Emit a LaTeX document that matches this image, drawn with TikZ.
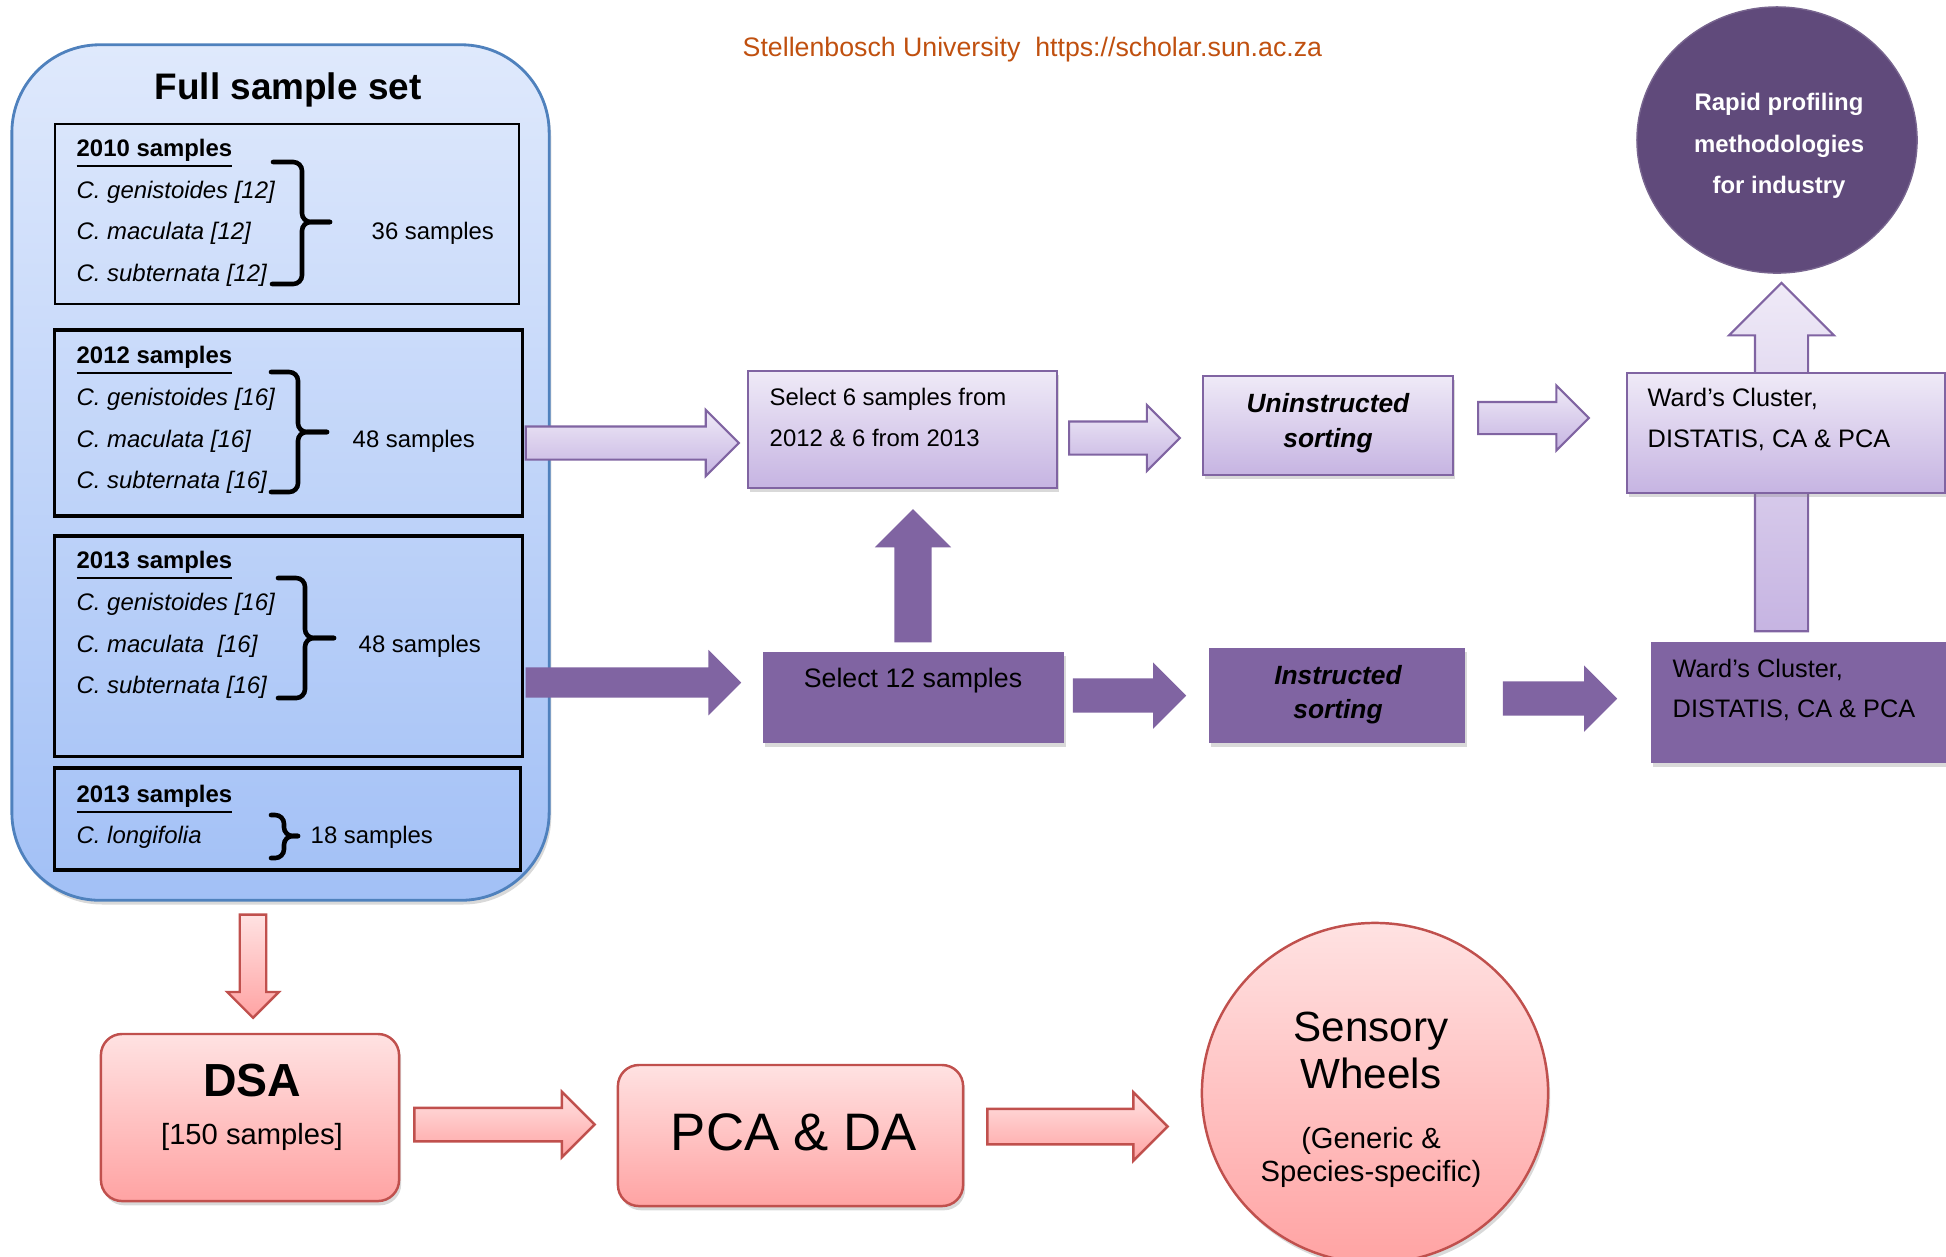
\documentclass[tikz,border=0pt]{standalone}
\usepackage{fontspec}
\setmainfont{Liberation Sans}
\usepackage{tikz}
\usetikzlibrary{calc,shapes.arrows,shapes.geometric,shadows}
\usepackage{xcolor}

\definecolor{accpurple}{HTML}{8064A2}
\definecolor{deeppurple}{HTML}{604A7B}
\definecolor{lilactop}{HTML}{EFEAF7}
\definecolor{lilacbot}{HTML}{C6B4E2}
\definecolor{rosetop}{HTML}{FFE2E2}
\definecolor{rosebot}{HTML}{FFA3A3}
\definecolor{roseline}{HTML}{C0504D}
\definecolor{skytop}{HTML}{DFE9FC}
\definecolor{skybot}{HTML}{A2C0F6}
\definecolor{skyline}{HTML}{4F81BD}
\definecolor{sunbrown}{HTML}{C0500F}

\tikzset{
  softshadow/.style={drop shadow={opacity=0.3, shadow xshift=0.6pt, shadow yshift=-1.2pt}},
  skybox/.style={draw=skyline, line width=0.8pt, rounded corners=25pt, top color=skytop, bottom color=skybot, softshadow},
  yearbox/.style={draw=black, line width=0.9pt, inner sep=0pt},
  lilacbox/.style={draw=accpurple, line width=0.6pt, top color=lilactop, bottom color=lilacbot, inner sep=0pt, softshadow},
  plumbox/.style={fill=accpurple, inner sep=0pt, softshadow},
  rosebox/.style={draw=roseline, line width=0.7pt, top color=rosetop, bottom color=rosebot, rounded corners=6pt, inner sep=0pt, softshadow},
  barrow/.style={single arrow, inner sep=0pt, outer sep=0pt, anchor=tail},
  lightarrow/.style={barrow, draw=accpurple, line width=0.6pt, top color=lilactop, bottom color=lilacbot},
  darkarrow/.style={barrow, fill=accpurple},
  rosearrow/.style={barrow, draw=roseline, line width=0.7pt, top color=rosetop, bottom color=rosebot},
  bracestyle/.style={line width=1.3pt, line cap=round, rounded corners=2.5pt},
  lefttxt/.style={inner sep=0pt, anchor=base west, font=\fontsize{6.8}{8}\selectfont},
  yeartxt/.style={lefttxt, font=\fontsize{6.8}{8}\selectfont\bfseries},
  spectxt/.style={lefttxt, font=\fontsize{6.8}{8}\selectfont\itshape},
  wardtxt/.style={lefttxt, font=\fontsize{7.2}{8}\selectfont},
  midtxt/.style={inner sep=0pt, anchor=base},
  sorttxt/.style={midtxt, font=\fontsize{7.5}{9}\selectfont\bfseries\itshape},
}

\newcommand{\blockarrow}[3]{%
  \path let \p1=#2, \p2=#3, \n1={veclen(\x2-\x1,\y2-\y1)}, \n2={atan2(\y2-\y1,\x2-\x1)} in
    node[#1, minimum height=\n1, rotate=\n2] at (\p1) {};}

\begin{document}
\begin{tikzpicture}[x=0.01cm, y=-0.01cm]

  \useasboundingbox (0,0) rectangle (1946,1256);

  \node[lefttxt, text=sunbrown, font=\fontsize{7.6}{9}\selectfont] (credit) at (742,56) {Stellenbosch University\ \ https://scholar.sun.ac.za};

  \node[skybox, minimum width=5.37cm, minimum height=8.55cm] (full) at (280.5,472.5) {};
  \node[midtxt, font=\fontsize{10.5}{12}\selectfont\bfseries] (fulltitle) at (288,99) {Full sample set};

  \node[yearbox, line width=0.4pt, minimum width=4.64cm, minimum height=1.80cm] (b2010) at (287,214) {};
  \node[yearbox, minimum width=4.67cm, minimum height=1.86cm] (b2012) at (288.5,423) {};
  \node[yearbox, minimum width=4.67cm, minimum height=2.20cm] (b2013) at (288.5,646) {};
  \node[yearbox, minimum width=4.65cm, minimum height=1.02cm] (b2013b) at (287.5,819) {};

  \node[yeartxt] (t2010) at (76,156) {\underline{2010 samples}};
  \node[spectxt] (g2010) at (76,198) {C. genistoides [12]};
  \node[spectxt] (m2010) at (76,239) {C. maculata [12]};
  \node[spectxt] (s2010) at (76,281) {C. subternata [12]};
  \node[lefttxt] (n2010) at (371,239) {36 samples};
  \draw[bracestyle] (273,162) -| (302,222) -- (330,222);
  \draw[bracestyle] (272,284) -| (302,222) -- (330,222);

  \node[yeartxt] (t2012) at (76,363) {\underline{2012 samples}};
  \node[spectxt] (g2012) at (76,405) {C. genistoides [16]};
  \node[spectxt] (m2012) at (76,447) {C. maculata [16]};
  \node[spectxt] (s2012) at (76,488) {C. subternata [16]};
  \node[lefttxt] (n2012) at (352,447) {48 samples};
  \draw[bracestyle] (271,372) -| (298,432) -- (327,432);
  \draw[bracestyle] (271,492) -| (298,432) -- (327,432);

  \node[yeartxt] (t2013) at (76,568) {\underline{2013 samples}};
  \node[spectxt] (g2013) at (76,610) {C. genistoides [16]};
  \node[spectxt] (m2013) at (76,652) {C. maculata\ \ [16]};
  \node[spectxt] (s2013) at (76,693) {C. subternata [16]};
  \node[lefttxt] (n2013) at (358,652) {48 samples};
  \draw[bracestyle] (278,578) -| (305,638) -- (334,638);
  \draw[bracestyle] (278,698) -| (305,638) -- (334,638);

  \node[yeartxt] (t2013b) at (76,802) {\underline{2013 samples}};
  \node[spectxt] (l2013b) at (76,843) {C. longifolia};
  \node[lefttxt] (n2013b) at (310,843) {18 samples};
  \draw[bracestyle] (271,815) -| (284,836) -- (298,836);
  \draw[bracestyle] (271,858) -| (284,836) -- (298,836);

  \node[lilacbox, minimum width=3.09cm, minimum height=1.17cm] (sel6) at (902.5,429.5) {};
  \node[lefttxt] (sel6a) at (769,405) {Select 6 samples from};
  \node[lefttxt] (sel6b) at (769,446) {2012 \& 6 from 2013};

  \node[lilacbox, minimum width=2.50cm, minimum height=0.99cm] (unin) at (1328,425.5) {};
  \node[sorttxt] (unina) at (1328,412) {Uninstructed};
  \node[sorttxt] (uninb) at (1328,447) {sorting};

  \node[ellipse, fill=deeppurple, draw=deeppurple!85!white, minimum width=2.80cm, minimum height=2.66cm] (circ) at (1777,140) {};
  \node[midtxt, text=white, font=\fontsize{6.8}{8}\selectfont\bfseries] (circa) at (1779,110) {Rapid profiling};
  \node[midtxt, text=white, font=\fontsize{6.8}{8}\selectfont\bfseries] (circb) at (1779,152) {methodologies};
  \node[midtxt, text=white, font=\fontsize{6.8}{8}\selectfont\bfseries] (circc) at (1779,193) {for industry};

  \node[plumbox, minimum width=3.09cm, minimum height=1.21cm] (ward2) at (1805.5,702.5) {};
  \node[wardtxt] (ward2a) at (1672,677) {Ward’s Cluster,};
  \node[wardtxt] (ward2b) at (1672,717) {DISTATIS, CA \& PCA};

  \blockarrow{lightarrow, inner ysep=0.255cm, single arrow head extend=0.26cm}{($(ward2.north)+(-24,-10)$)}{($(circ.south)+(4.5,9)$)}

  \node[lilacbox, minimum width=3.18cm, minimum height=1.20cm] (ward1) at (1786,433) {};
  \node[wardtxt] (ward1a) at (1647,406) {Ward’s Cluster,};
  \node[wardtxt] (ward1b) at (1647,447) {DISTATIS, CA \& PCA};

  \node[plumbox, minimum width=3.01cm, minimum height=0.91cm] (sel12) at (913.5,697.5) {};
  \node[midtxt, font=\fontsize{7.6}{9}\selectfont] (sel12a) at (913,687) {Select 12 samples};

  \node[plumbox, minimum width=2.56cm, minimum height=0.95cm] (instr) at (1337,695.5) {};
  \node[sorttxt] (instra) at (1338,684) {Instructed};
  \node[sorttxt] (instrb) at (1338,718) {sorting};

  \blockarrow{lightarrow, inner ysep=0.155cm, single arrow head extend=0.165cm}{($(b2012.east)+(2,20)$)}{($(sel6.west)+(-8,13.5)$)}
  \blockarrow{lightarrow, inner ysep=0.155cm, single arrow head extend=0.165cm}{($(sel6.east)+(11,8.5)$)}{($(unin.west)+(-22,12.5)$)}
  \blockarrow{lightarrow, inner ysep=0.15cm, single arrow head extend=0.165cm}{($(unin.east)+(24,-7.5)$)}{($(ward1.west)+(-37,-15)$)}

  \blockarrow{darkarrow, inner ysep=0.145cm, single arrow head extend=0.175cm}{($(b2013.east)+(2,36.5)$)}{($(sel12.west)+(-21,-15)$)}
  \blockarrow{darkarrow, inner ysep=0.18cm, single arrow head extend=0.195cm}{($(sel12.north)+(-0.5,-9)$)}{($(sel6.south)+(10.5,20)$)}
  \blockarrow{darkarrow, inner ysep=0.165cm, single arrow head extend=0.16cm}{($(sel12.east)+(8,-2)$)}{($(instr.west)+(-22,0)$)}
  \blockarrow{darkarrow, inner ysep=0.165cm, single arrow head extend=0.16cm}{($(instr.east)+(37,3)$)}{($(ward2.west)+(-33,-4)$)}

  \node[rosebox, minimum width=2.98cm, minimum height=1.67cm] (dsa) at (250,1117.5) {};
  \node[midtxt, font=\fontsize{13.2}{15}\selectfont\bfseries] (dsaa) at (252,1096) {DSA};
  \node[midtxt, font=\fontsize{8.3}{10}\selectfont] (dsab) at (252,1144) {[150 samples]};

  \node[rosebox, minimum width=3.45cm, minimum height=1.41cm] (pca) at (790.5,1135.5) {};
  \node[midtxt, font=\fontsize{15}{18}\selectfont] (pcaa) at (794,1150) {PCA \& DA};

  \node[ellipse, draw=roseline, line width=0.7pt, top color=rosetop, bottom color=rosebot, minimum width=3.46cm, minimum height=3.40cm, softshadow] (sens) at (1375,1093) {};
  \node[midtxt, font=\fontsize{12}{14}\selectfont] (sensa) at (1371,1041) {Sensory};
  \node[midtxt, font=\fontsize{12}{14}\selectfont] (sensb) at (1371,1088) {Wheels};
  \node[midtxt, font=\fontsize{8.3}{10}\selectfont] (sensc) at (1371,1148) {(Generic \&};
  \node[midtxt, font=\fontsize{8.3}{10}\selectfont] (sensd) at (1371,1181) {Species-specific)};

  \blockarrow{rosearrow, inner ysep=0.12cm, single arrow head extend=0.125cm}{($(full.south)+(-27.5,13)$)}{($(dsa.north)+(3,-15)$)}
  \blockarrow{rosearrow, inner ysep=0.155cm, single arrow head extend=0.16cm}{($(dsa.east)+(14,7)$)}{($(pca.west)+(-22,-11)$)}
  \blockarrow{rosearrow, inner ysep=0.165cm, single arrow head extend=0.165cm}{($(pca.east)+(23,-9)$)}{($(sens.west)+(-33,33.5)$)}

\end{tikzpicture}
\end{document}
